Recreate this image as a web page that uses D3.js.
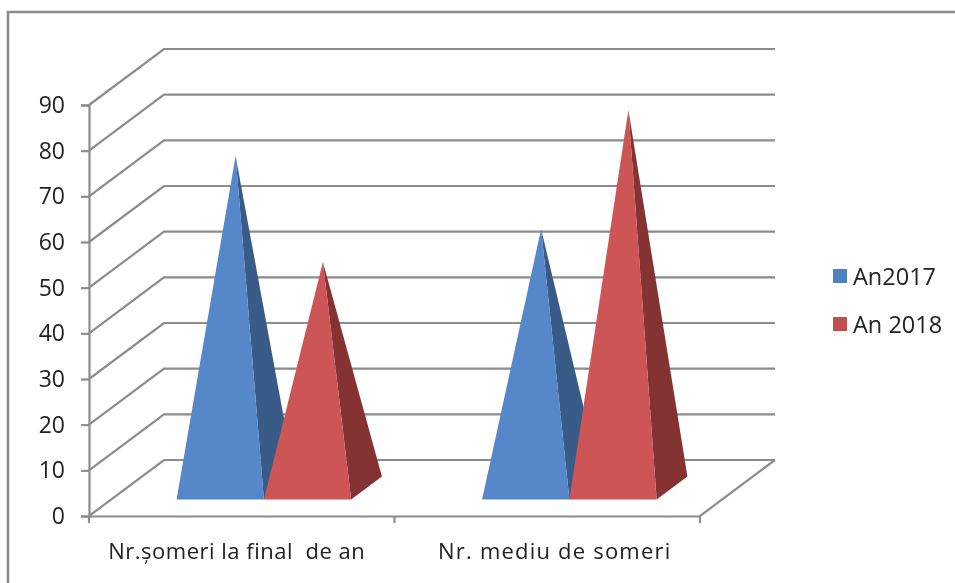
<!DOCTYPE html>
<html>
<head>
<meta charset="utf-8">
<script src="https://cdn.jsdelivr.net/npm/d3@7"></script>
<style>
html, body { margin: 0; padding: 0; background: #fff; overflow: hidden; }
text { font-family: "Open Sans", Lato, sans-serif; fill: #222; white-space: pre; }
</style>
</head>
<body>
<script>
var categories = ["Nr.șomeri la final  de an", "Nr. mediu de someri"];
var seriesNames = ["An2017", "An 2018"];
var an2017 = [72.7, 56.7];
var an2018 = [49.5, 82.8];
var yTicks = [0, 10, 20, 30, 40, 50, 60, 70, 80, 90];

var frontColors = ["#5487c9", "#cd5554"];
var sideColors = ["#375b87", "#843333"];
var legendColors = ["#4f81bd", "#c0504d"];
var lineColor = "#8c8c8c";

var svg = d3.select("body").append("svg")
    .attr("width", 955)
    .attr("height", 583);

var defs = svg.append("defs");
defs.append("filter").attr("id", "soft")
  .append("feGaussianBlur").attr("stdDeviation", 0.5);

var g = svg.append("g").attr("filter", "url(#soft)");

// outer frame, cut off by the screenshot on the right and at the bottom
g.append("path")
    .attr("fill", "none")
    .attr("stroke", lineColor)
    .attr("stroke-width", 2.6)
    .attr("d", "M8,583V12H955");

var y = d3.scaleLinear().domain([0, 90]).range([516, 105]);
var x = d3.scaleBand().domain(categories).range([89, 700]);
var xSeries = d3.scaleBand().domain(seriesNames).range([0, x.bandwidth()]).paddingOuter(0.75);

// depth of the floor in screen pixels
var depth = d3.scaleLinear().domain([0, 1]).range([0, 75]);
var rise = d3.scaleLinear().domain([0, 1]).range([0, -56]);
var barFront = 0.295, barBack = 0.705;

// gridlines: side wall and back wall
g.append("g").selectAll("path")
    .data(yTicks)
    .join("path")
    .attr("fill", "none")
    .attr("stroke", lineColor)
    .attr("stroke-width", 2.2)
    .attr("d", function(d) {
      var p = d3.path();
      p.moveTo(x.range()[0], y(d));
      p.lineTo(x.range()[0] + depth(1), y(d) + rise(1));
      p.lineTo(x.range()[1] + depth(1), y(d) + rise(1));
      return p.toString();
    });

// floor edge on the right
g.append("line")
    .attr("x1", x.range()[1]).attr("y1", y(0))
    .attr("x2", x.range()[1] + depth(1)).attr("y2", y(0) + rise(1))
    .attr("stroke", lineColor)
    .attr("stroke-width", 2.2);

// axes
var axisY = g.append("g")
    .attr("transform", "translate(" + x.range()[0] + ",0)")
    .call(d3.axisLeft(y).tickValues(yTicks).tickSize(8).tickPadding(16));
axisY.selectAll("line, path").attr("stroke", lineColor).attr("stroke-width", 2.2);
axisY.selectAll("text").attr("font-size", 23).style("font-family", "'Open Sans', sans-serif").style("fill", "#222");

var axisX = g.append("g")
    .attr("transform", "translate(0," + y(0) + ")")
    .call(d3.axisBottom(x).tickSize(0).tickPadding(27));
axisX.select(".domain").attr("stroke", lineColor).attr("stroke-width", 2.2);
axisX.selectAll(".tick line").remove();
axisX.selectAll("text")
    .attr("font-size", 22)
    .style("font-family", "'Open Sans', sans-serif")
    .style("fill", "#222")
    .style("letter-spacing", function(d, i) { return i === 0 ? "0.5px" : "1.2px"; })
    .attr("dx", function(d, i) { return i === 0 ? -5 : 7.5; });
axisX.append("g").selectAll("line")
    .data(x.range().concat([x(categories[1])]))
    .join("line")
    .attr("x1", function(d) { return d; })
    .attr("x2", function(d) { return d; })
    .attr("y1", 0)
    .attr("y2", 7)
    .attr("stroke", lineColor)
    .attr("stroke-width", 2.2);

// pyramids
var values = [an2017, an2018];
var bars = [];
categories.forEach(function(c, i) {
  seriesNames.forEach(function(s, j) {
    bars.push({cat: c, series: s, idx: j, value: values[j][i]});
  });
});

var barG = g.append("g").selectAll("g")
    .data(bars)
    .join("g");

function corners(d) {
  var x0 = x(d.cat) + xSeries(d.series);
  var x1 = x0 + xSeries.bandwidth();
  var mid = (barFront + barBack) / 2;
  var floorMid = y(0) + rise(mid);
  return {
    fl: [x0 + depth(barFront), y(0) + rise(barFront)],
    fr: [x1 + depth(barFront), y(0) + rise(barFront)],
    br: [x1 + depth(barBack), y(0) + rise(barBack)],
    apex: [(x0 + x1) / 2 + depth(mid), floorMid - (y(0) - y(d.value))]
  };
}

barG.append("path")
    .attr("fill", function(d) { return sideColors[d.idx]; })
    .attr("d", function(d) {
      var c = corners(d);
      return d3.line()([c.fr, c.br, c.apex]) + "Z";
    });

barG.append("path")
    .attr("fill", function(d) { return frontColors[d.idx]; })
    .attr("d", function(d) {
      var c = corners(d);
      return d3.line()([c.fl, c.fr, c.apex]) + "Z";
    });

// legend
var legendY = d3.scalePoint().domain(seriesNames).range([276, 324]);
var legend = g.append("g").selectAll("g")
    .data(seriesNames)
    .join("g")
    .attr("transform", function(d) { return "translate(833," + legendY(d) + ")"; });

legend.append("rect")
    .attr("x", 0).attr("y", -7)
    .attr("width", 14).attr("height", 14)
    .attr("fill", function(d, i) { return legendColors[i]; });

legend.append("text")
    .attr("x", 20)
    .attr("dy", "0.38em")
    .attr("font-size", 23.5)
    .text(function(d) { return d; });
</script>
</body>
</html>
